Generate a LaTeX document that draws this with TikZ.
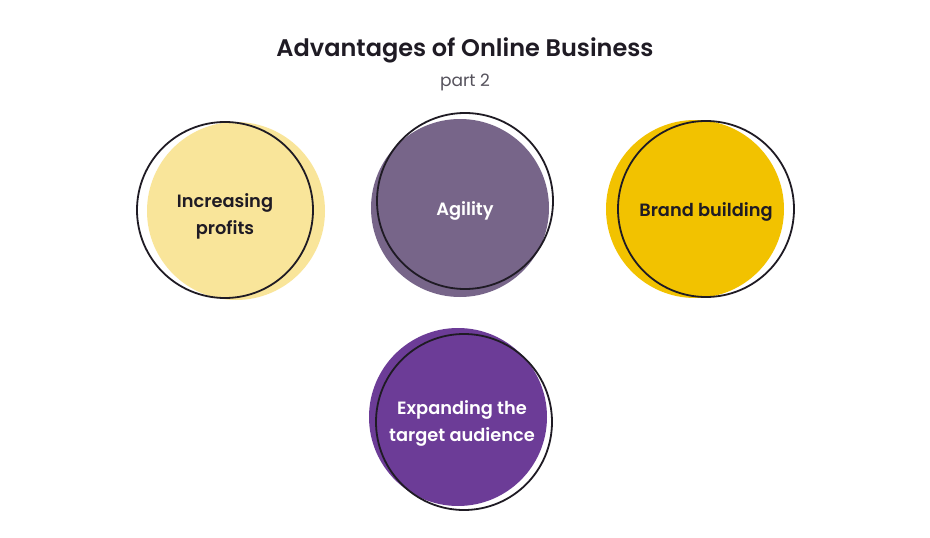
\documentclass[tikz,border=0pt]{standalone}
\usepackage{fontspec}
\setmainfont{Poppins}[BoldFont={* SemiBold}]
\definecolor{lightyel}{HTML}{F9E59A}
\definecolor{greypurp}{HTML}{776589}
\definecolor{gold}{HTML}{F2C200}
\definecolor{deeppurp}{HTML}{6C3C97}
\definecolor{ink}{HTML}{1F1B24}
\definecolor{subgrey}{HTML}{55525C}
\begin{document}
\begin{tikzpicture}[x=1pt,y=-1pt,
  blob/.style={circle, inner sep=0pt, minimum size=178pt, draw=none},
  ring/.style={circle, inner sep=0pt, minimum size=176pt, draw=ink, line width=1.8pt},
  lbl/.style={align=center, font=\fontsize{17.8}{27}\selectfont\bfseries, inner sep=0pt}]
\useasboundingbox[fill=white] (0,0) rectangle (930,538);
\node[font=\fontsize{24}{28}\selectfont\bfseries, text=ink] (title) at (465,50) {Advantages of Online Business};
\node[font=\fontsize{17}{20}\selectfont, text=subgrey] (sub) at (465,82) {part 2};
% circle 1
\node[blob, fill=lightyel] (f1) at (236,211) {};
\node[ring] (o1) at (225,210) {};
\node[lbl, text=ink] (t1) at (225,216) {Increasing\\profits};
% circle 2
\node[blob, fill=greypurp] (f2) at (460,208) {};
\node[ring] (o2) at (465,201) {};
\node[lbl, text=white] (t2) at (465,211) {Agility};
% circle 3
\node[blob, fill=gold] (f3) at (695,209) {};
\node[ring] (o3) at (706,209) {};
\node[lbl, text=ink] (t3) at (706,212) {Brand building};
% circle 4
\node[blob, fill=deeppurp] (f4) at (458,417) {};
\node[ring] (o4) at (464,422) {};
\node[lbl, text=white] (t4) at (462,423) {Expanding the\\target audience};
\end{tikzpicture}
\end{document}
